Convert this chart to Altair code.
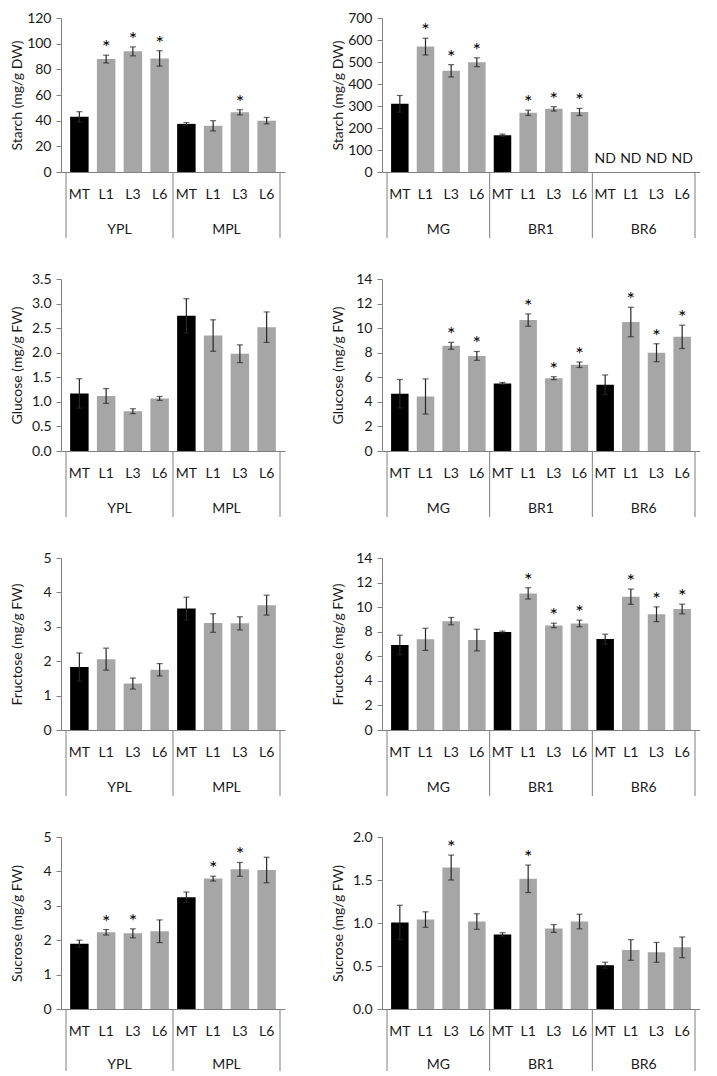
import altair as alt
import pandas as pd

cats = ["MT", "L1", "L3", "L6"]
groups_left = ["YPL", "MPL"]
groups_right = ["MG", "BR1", "BR6"]

# Starch
starch_left_mean = [43, 88, 94, 88.5, 37.5, 36, 46.5, 40]
starch_left_err = [4, 3, 3.5, 6, 1, 4, 2, 2.5]
starch_left_sig = [0, 1, 1, 1, 0, 0, 1, 0]
starch_right_mean = [310, 570, 460, 499, 167, 269, 287, 273, None, None, None, None]
starch_right_err = [38, 38, 28, 20, 5, 12, 10, 16, None, None, None, None]
starch_right_sig = [0, 1, 1, 1, 0, 1, 1, 1, 0, 0, 0, 0]
starch_right_nd = [0, 0, 0, 0, 0, 0, 0, 0, 1, 1, 1, 1]

# Glucose
glucose_left_mean = [1.17, 1.12, 0.81, 1.07, 2.75, 2.35, 1.98, 2.52]
glucose_left_err = [0.30, 0.15, 0.05, 0.04, 0.35, 0.32, 0.18, 0.31]
glucose_left_sig = [0, 0, 0, 0, 0, 0, 0, 0]
glucose_right_mean = [4.66, 4.44, 8.56, 7.74, 5.50, 10.66, 5.93, 7.02, 5.39, 10.5, 8.0, 9.29]
glucose_right_err = [1.16, 1.43, 0.28, 0.36, 0.08, 0.5, 0.12, 0.22, 0.8, 1.2, 0.73, 0.95]
glucose_right_sig = [0, 0, 1, 1, 0, 1, 1, 1, 0, 1, 1, 1]

# Fructose
fructose_left_mean = [1.83, 2.06, 1.35, 1.75, 3.53, 3.11, 3.10, 3.63]
fructose_left_err = [0.41, 0.32, 0.16, 0.18, 0.33, 0.27, 0.19, 0.29]
fructose_left_sig = [0, 0, 0, 0, 0, 0, 0, 0]
fructose_right_mean = [6.92, 7.38, 8.86, 7.32, 7.97, 11.12, 8.51, 8.67, 7.40, 10.85, 9.42, 9.85]
fructose_right_err = [0.8, 0.9, 0.3, 0.88, 0.08, 0.46, 0.18, 0.27, 0.4, 0.62, 0.6, 0.39]
fructose_right_sig = [0, 0, 0, 0, 0, 1, 1, 1, 0, 1, 1, 1]

# Sucrose
sucrose_left_mean = [1.90, 2.23, 2.20, 2.26, 3.25, 3.79, 4.06, 4.04]
sucrose_left_err = [0.1, 0.08, 0.13, 0.33, 0.15, 0.07, 0.2, 0.37]
sucrose_left_sig = [0, 1, 1, 0, 0, 1, 1, 0]
sucrose_right_mean = [1.006, 1.04, 1.645, 1.017, 0.867, 1.514, 0.936, 1.017, 0.509, 0.686, 0.659, 0.717]
sucrose_right_err = [0.2, 0.09, 0.145, 0.09, 0.02, 0.16, 0.045, 0.085, 0.035, 0.12, 0.115, 0.12]
sucrose_right_sig = [0, 0, 1, 0, 0, 1, 0, 0, 0, 0, 0, 0]

FONT = "Lato"
TXT = "#1a1a1a"
AX = "#7f7f7f"
ERR = "#262626"
EXT = 34
WL = 224
WR = 318


def panel(groups, means, errs, sigs, ymax, ticks, fmt, title, w, h,
          nd=None, rule_len=66, grp_y=58):
    n = len(groups) * 4
    if nd is None:
        nd = [0] * n
    rows = []
    for i in range(n):
        m = means[i]
        e = errs[i]
        rows.append({
            "pos": i,
            "cat": cats[i % 4],
            "grp": groups[i // 4],
            "mean": m,
            "lo": (m - e) if m is not None else None,
            "hi": (m + e) if m is not None else None,
            "sig": sigs[i],
            "nd": nd[i],
        })
    df = pd.DataFrame(rows)
    gdf = pd.DataFrame({"grp": groups,
                        "center": [g * 4 + 1.5 for g in range(len(groups))]})
    bdf = pd.DataFrame({"b": [g * 4 - 0.5 for g in range(len(groups) + 1)]})

    xs = alt.Scale(domain=[-0.5, n - 0.5], nice=False, zero=False)
    ys = alt.Scale(domain=[0, ymax], nice=False, zero=True)
    xaxis = alt.Axis(labels=False, ticks=False, title=None, grid=False,
                     domainColor=AX, domainWidth=1)
    yaxis = alt.Axis(values=ticks, format=fmt, title=title, grid=False,
                     domainColor=AX, tickColor=AX, tickSize=5,
                     labelPadding=5, titlePadding=3,
                     labelFont=FONT, labelFontSize=14, labelColor=TXT,
                     titleFont=FONT, titleFontSize=14,
                     titleFontWeight="normal", titleColor=TXT,
                     minExtent=EXT, maxExtent=EXT)

    def X(field):
        return alt.X(field, scale=xs, axis=xaxis)

    def Y(field):
        return alt.Y(field, scale=ys, axis=yaxis, title=title)

    valid = alt.datum.nd == 0
    base = alt.Chart(df)

    bars = base.mark_bar(size=0.66 * w / n).encode(
        x=X("pos:Q"),
        y=Y("mean:Q"),
        color=alt.condition("datum.cat == 'MT'", alt.value("#000000"),
                            alt.value("#a6a6a6")),
    ).transform_filter(valid)

    erule = base.mark_rule(color=ERR, strokeWidth=1.2).encode(
        x=X("pos:Q"),
        y=Y("lo:Q"),
        y2="hi:Q",
    ).transform_filter(valid)
    cap_hi = base.mark_tick(orient="horizontal", size=6, thickness=1.2,
                            color=ERR).encode(
        x=X("pos:Q"), y=Y("hi:Q")
    ).transform_filter(valid)
    cap_lo = base.mark_tick(orient="horizontal", size=6, thickness=1.2,
                            color=ERR).encode(
        x=X("pos:Q"), y=Y("lo:Q")
    ).transform_filter(valid)

    stars = base.mark_text(text="*", font=FONT, fontSize=20, color="#000000",
                           baseline="alphabetic", dy=-1).encode(
        x=X("pos:Q"), y=Y("hi:Q")
    ).transform_filter(alt.datum.sig == 1)

    ndtext = base.mark_text(text="ND", font=FONT, fontSize=14, color=TXT,
                            baseline="middle").encode(
        x=X("pos:Q"), y=alt.value(h - 13)
    ).transform_filter(alt.datum.nd == 1)

    catlab = base.mark_text(font=FONT, fontSize=14, color=TXT,
                            baseline="middle").encode(
        x=X("pos:Q"), y=alt.value(h + 23), text="cat:N")

    grplab = alt.Chart(gdf).mark_text(font=FONT, fontSize=14, color=TXT,
                                      baseline="middle").encode(
        x=X("center:Q"),
        y=alt.value(h + grp_y), text="grp:N")

    seps = alt.Chart(bdf).mark_rule(color=AX, strokeWidth=1).encode(
        x=X("b:Q"),
        y=alt.value(h), y2=alt.value(h + rule_len))

    return alt.layer(bars, erule, cap_hi, cap_lo, stars, ndtext, catlab,
                     grplab, seps).properties(width=w, height=h)


p1 = panel(groups_left, starch_left_mean, starch_left_err, starch_left_sig,
           120, [0, 20, 40, 60, 80, 100, 120], "d", "Starch (mg/g DW)",
           WL, 154)
p2 = panel(groups_right, starch_right_mean, starch_right_err, starch_right_sig,
           700, [0, 100, 200, 300, 400, 500, 600, 700], "d", "Starch (mg/g DW)",
           WR, 154, nd=starch_right_nd)
p3 = panel(groups_left, glucose_left_mean, glucose_left_err, glucose_left_sig,
           3.5, [0, 0.5, 1, 1.5, 2, 2.5, 3, 3.5], ".1f", "Glucose (mg/g FW)",
           WL, 172)
p4 = panel(groups_right, glucose_right_mean, glucose_right_err, glucose_right_sig,
           14, [0, 2, 4, 6, 8, 10, 12, 14], "d", "Glucose (mg/g FW)",
           WR, 172)
p5 = panel(groups_left, fructose_left_mean, fructose_left_err, fructose_left_sig,
           5, [0, 1, 2, 3, 4, 5], "d", "Fructose (mg/g FW)",
           WL, 172)
p6 = panel(groups_right, fructose_right_mean, fructose_right_err, fructose_right_sig,
           14, [0, 2, 4, 6, 8, 10, 12, 14], "d", "Fructose (mg/g FW)",
           WR, 172)
p7 = panel(groups_left, sucrose_left_mean, sucrose_left_err, sucrose_left_sig,
           5, [0, 1, 2, 3, 4, 5], "d", "Sucrose (mg/g FW)",
           WL, 172, rule_len=62, grp_y=56)
p8 = panel(groups_right, sucrose_right_mean, sucrose_right_err, sucrose_right_sig,
           2, [0, 0.5, 1, 1.5, 2], ".1f", "Sucrose (mg/g FW)",
           WR, 172, rule_len=62, grp_y=56)

chart = alt.concat(
    p1, p2, p3, p4, p5, p6, p7, p8,
    columns=2, spacing={"row": 33, "column": 46},
).properties(
    padding={"left": 2, "top": 3, "right": 0, "bottom": 0}
).configure_view(stroke=None).configure_axis(grid=False)

chart.save("out.html", embed_options={"renderer": "svg", "actions": False})
